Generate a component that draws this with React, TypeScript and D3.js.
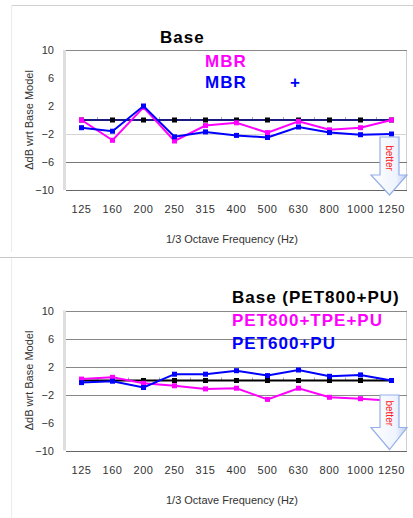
import React, { useRef, useEffect } from "react";
import * as d3 from "d3";

const freqs = ["125", "160", "200", "250", "315", "400", "500", "630", "800", "1000", "1250"];
const yTicks = [10, 6, 2, -2, -6, -10];

// top panel
const topBase = [0, 0, 0, 0, 0, 0, 0, 0, 0, 0, 0];
const topMbrPink = [0, -2.9, 1.8, -3.0, -0.8, -0.4, -1.8, -0.2, -1.4, -1.1, 0];
const topMbrBlue = [-1.1, -1.6, 2.0, -2.4, -1.7, -2.2, -2.5, -1.0, -1.8, -2.1, -2.0];

// bottom panel
const botBase = [0, 0, 0, 0, 0, 0, 0, 0, 0, 0, 0];
const botTpe = [0.2, 0.45, -0.4, -0.75, -1.2, -1.1, -2.7, -1.1, -2.4, -2.6, -2.9];
const botPet600 = [-0.3, -0.1, -1.0, 0.9, 0.9, 1.4, 0.7, 1.5, 0.6, 0.8, 0];

const FONT = "'Liberation Sans', Arial, sans-serif";

const App = () => {
  const svgRef = useRef(null);

  useEffect(() => {
    const svg = d3.select(svgRef.current);
    svg.selectAll("*").remove();

    const defs = svg.append("defs");
    const grad = defs.append("linearGradient").attr("id", "arrowGrad")
      .attr("x1", "0%").attr("x2", "100%").attr("y1", "0%").attr("y2", "0%");
    grad.append("stop").attr("offset", "0%").attr("stop-color", "#ffffff");
    grad.append("stop").attr("offset", "70%").attr("stop-color", "#eef3fd");
    grad.append("stop").attr("offset", "100%").attr("stop-color", "#b9cbf3");

    // frames
    svg.append("line").attr("x1", 11).attr("x2", 413).attr("y1", 5.5).attr("y2", 5.5).attr("stroke", "#d0d0d0");
    svg.append("line").attr("x1", 11.5).attr("x2", 11.5).attr("y1", 5).attr("y2", 252).attr("stroke", "#ececec");
    svg.append("line").attr("x1", 0).attr("x2", 413).attr("y1", 257.5).attr("y2", 257.5).attr("stroke", "#c8c8c8");
    svg.append("line").attr("x1", 11.5).attr("x2", 11.5).attr("y1", 258).attr("y2", 518).attr("stroke", "#ececec");

    const x = d3.scaleBand().domain(freqs).range([66, 407]);

    const drawPanel = (off, cfg) => {
      const g = svg.append("g");
      const y = d3.scaleLinear().domain([-10, 10]).range([190 + off, 50 + off]);

      // wall
      g.append("rect").attr("x", 63).attr("y", y(10)).attr("width", 3).attr("height", y(-10) - y(10)).attr("fill", "#dedede");
      g.append("line").attr("x1", 406.5).attr("x2", 406.5).attr("y1", y(10)).attr("y2", y(-10)).attr("stroke", "#cfcfcf");

      cfg.grid.forEach((gl) => {
        g.append("line").attr("x1", 66).attr("x2", 407)
          .attr("y1", Math.round(y(gl.v)) + 0.5).attr("y2", Math.round(y(gl.v)) + 0.5)
          .attr("stroke", gl.c).attr("stroke-width", 1);
      });
      g.append("line").attr("x1", 66).attr("x2", 407)
        .attr("y1", Math.round(y(-10)) + 0.5).attr("y2", Math.round(y(-10)) + 0.5)
        .attr("stroke", "#666");

      // y tick labels
      g.selectAll(".yt").data(yTicks).enter().append("text")
        .attr("x", 54).attr("y", (d) => y(d) + 4)
        .attr("text-anchor", "end").attr("font-family", FONT).attr("font-size", 11)
        .attr("fill", "#333")
        .text((d) => (d < 0 ? "\u2212" + Math.abs(d) : String(d)));

      // y label
      g.append("text")
        .attr("transform", `translate(33, ${y(0)}) rotate(-90)`)
        .attr("text-anchor", "middle").attr("font-family", FONT).attr("font-size", 11)
        .attr("fill", "#333").text("\u0394dB wrt Base Model");

      // x tick labels
      g.selectAll(".xt").data(freqs).enter().append("text")
        .attr("x", (d) => x(d) + x.bandwidth() / 2).attr("y", 213 + off)
        .attr("text-anchor", "middle").attr("font-family", FONT).attr("font-size", 11)
        .attr("letter-spacing", 0.6).attr("fill", "#333").text((d) => d);

      g.append("text").attr("x", 232).attr("y", 243 + off)
        .attr("text-anchor", "middle").attr("font-family", FONT).attr("font-size", 11)
        .attr("fill", "#333").text("1/3 Octave Frequency (Hz)");

      // zero axis minor ticks
      freqs.slice(1).forEach((f) => {
        g.append("line").attr("x1", x(f) + 0.5).attr("x2", x(f) + 0.5)
          .attr("y1", y(0) - 3).attr("y2", y(0)).attr("stroke", "#aaa");
      });

      const line = d3.line().x((d, i) => x(freqs[i]) + x.bandwidth() / 2).y((d) => y(d));

      cfg.series.forEach((s) => {
        g.append("path").datum(s.values).attr("d", line).attr("fill", "none")
          .attr("stroke", s.line).attr("stroke-width", 2);
        g.selectAll(null).data(s.values).enter().append("rect")
          .attr("x", (d, i) => x(freqs[i]) + x.bandwidth() / 2 - 2.5)
          .attr("y", (d) => y(d) - 2.5)
          .attr("width", 5).attr("height", 5).attr("fill", s.marker);
      });

      // legend text
      cfg.legend.forEach((l) => {
        g.append("text").attr("x", l.x).attr("y", l.y + off)
          .attr("font-family", FONT).attr("font-size", 17).attr("font-weight", "bold")
          .attr("letter-spacing", 1).attr("fill", l.c).text(l.t);
      });

      // better arrow
      const a = cfg.arrow;
      const top = a.top + off, head = a.head + off, tip = a.tip + off;
      const pts = [
        [380, top], [399, top], [399, head], [407, head],
        [389.5, tip], [371, head], [380, head],
      ];
      g.append("path").attr("d", "M" + pts.map((p) => p.join(",")).join("L") + "Z")
        .attr("fill", "url(#arrowGrad)").attr("stroke", "#95b0e8").attr("stroke-width", 1.2);
      g.append("text")
        .attr("transform", `translate(386, ${(top + head) / 2 + 2}) rotate(90)`)
        .attr("text-anchor", "middle").attr("font-family", FONT).attr("font-size", 10)
        .attr("fill", "#ff2020").text("better");
    };

    drawPanel(0, {
      grid: [{ v: 10, c: "#888" }, { v: -2, c: "#d4d4d4" }, { v: -6, c: "#777" }],
      series: [
        { values: topBase, line: "#1a1a80", marker: "#000" },
        { values: topMbrPink, line: "#ff00ff", marker: "#ff00ff" },
        { values: topMbrBlue, line: "#0000ff", marker: "#0000ff" },
      ],
      legend: [
        { x: 160, y: 43, t: "Base", c: "#000" },
        { x: 205, y: 67, t: "MBR", c: "#ff00ff" },
        { x: 205, y: 88, t: "MBR", c: "#0000ff" },
        { x: 290, y: 88, t: "+", c: "#0000ff" },
      ],
      arrow: { top: 137, head: 175, tip: 195 },
    });

    drawPanel(260.5, {
      grid: [{ v: 10, c: "#888" }, { v: 6, c: "#888" }, { v: 2, c: "#888" }, { v: -2, c: "#888" }],
      series: [
        { values: botBase, line: "#000", marker: "#000" },
        { values: botTpe, line: "#ff00ff", marker: "#ff00ff" },
        { values: botPet600, line: "#0000ff", marker: "#0000ff" },
      ],
      legend: [
        { x: 232, y: 42, t: "Base (PET800+PU)", c: "#000" },
        { x: 232, y: 65, t: "PET800+TPE+PU", c: "#ff00ff" },
        { x: 232, y: 88, t: "PET600+PU", c: "#0000ff" },
      ],
      arrow: { top: 134.5, head: 167, tip: 189 },
    });
  }, []);

  return (
    <svg ref={svgRef} width={413} height={518}
      style={{ position: "absolute", left: 0, top: 0, background: "#fff" }} />
  );
};

export default App;
